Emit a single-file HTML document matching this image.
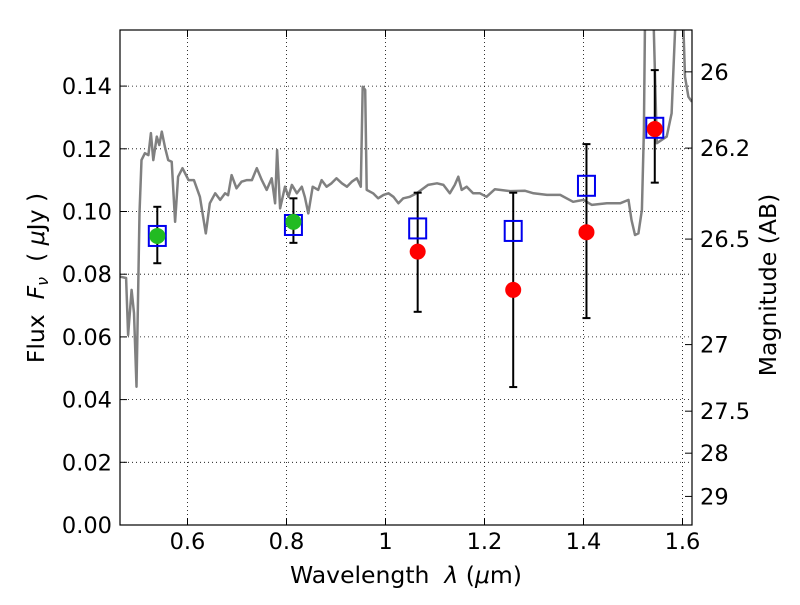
<!DOCTYPE html>
<html><head><meta charset="utf-8"><style>
body{margin:0;background:#fff}
svg text{font-family:"DejaVu Sans","Liberation Sans",sans-serif;fill:#000}
</style></head><body>
<svg id="chart" width="800" height="600" xmlns="http://www.w3.org/2000/svg">
<defs><clipPath id="clip"><rect x="120" y="30" width="572" height="495"/></clipPath></defs>
<rect x="0" y="0" width="800" height="600" fill="#fff"/>
<g id="grid"></g>
<g id="spec" clip-path="url(#clip)"></g>
<g id="marks" clip-path="url(#clip)"></g>
<rect x="120" y="30" width="572" height="495" fill="none" stroke="#000" stroke-width="1.2"/>
<g id="axes"></g>
<text x="406" y="583" text-anchor="middle" font-size="23.5">Wavelength&#160;&#160;<tspan font-style="italic">λ</tspan> (<tspan font-style="italic">μ</tspan>m)</text>
<text transform="translate(44,278) rotate(-90)" text-anchor="middle" font-size="23.5">Flux&#160;&#160;<tspan font-style="italic">F<tspan font-size="16" dy="4">ν</tspan></tspan><tspan dy="-4">&#160;&#160;(&#160;</tspan><tspan font-style="italic">μ</tspan>Jy )</text>
<text transform="translate(776,285) rotate(-90)" text-anchor="middle" font-size="23.5">Magnitude (AB)</text>
</svg>
<script>
const xTicks=[0.6,0.8,1.0,1.2,1.4,1.6];
const xTickLabels=["0.6","0.8","1","1.2","1.4","1.6"];
const yTicks=[0,0.02,0.04,0.06,0.08,0.1,0.12,0.14];
const yTickLabels=["0.00","0.02","0.04","0.06","0.08","0.10","0.12","0.14"];
const magTicks=[26,26.2,26.5,27,27.5,28,29];
const magTickLabels=["26","26.2","26.5","27","27.5","28","29"];
const bandWave=[0.539,0.814,1.065,1.258,1.406,1.544];
const modelFlux=[0.0922,0.0957,0.0946,0.0938,0.1082,0.1267];
const obsFlux=[0.0922,0.0967,0.0872,0.075,0.0934,0.1263];
const obsColors=["#22bb22","#22bb22","red","red","red","red"];
const errLow=[0.0835,0.090,0.068,0.044,0.066,0.1092];
const errHigh=[0.1015,0.1042,0.106,0.106,0.1215,0.1451];
const specWave=[0.464,0.476,0.480,0.487,0.492,0.497,0.503,0.507,0.514,0.521,0.526,0.531,0.538,0.543,0.548,0.555,0.561,0.568,0.575,0.581,0.590,0.602,0.613,0.625,0.637,0.645,0.656,0.666,0.676,0.682,0.689,0.699,0.709,0.720,0.730,0.740,0.750,0.760,0.770,0.777,0.781,0.787,0.797,0.804,0.811,0.821,0.831,0.837,0.844,0.853,0.864,0.871,0.881,0.891,0.901,0.912,0.922,0.932,0.942,0.950,0.954,0.959,0.962,0.975,0.985,0.996,1.006,1.016,1.026,1.036,1.049,1.063,1.086,1.104,1.117,1.130,1.140,1.147,1.154,1.164,1.177,1.191,1.204,1.221,1.252,1.282,1.299,1.326,1.353,1.379,1.400,1.417,1.447,1.474,1.491,1.497,1.504,1.511,1.518,1.522,1.524,1.528,1.538,1.542,1.548,1.568,1.578,1.585,1.59,1.598,1.602,1.605,1.612,1.619];
const specFlux=[0.0792,0.0788,0.0606,0.0750,0.0676,0.0441,0.0995,0.1164,0.1186,0.118,0.125,0.1164,0.1239,0.1212,0.1255,0.1202,0.1164,0.1159,0.0967,0.1111,0.1138,0.110,0.110,0.1047,0.0930,0.1026,0.1058,0.1037,0.1058,0.1052,0.1116,0.1074,0.1095,0.110,0.110,0.1138,0.110,0.1069,0.1106,0.1026,0.1196,0.1010,0.1079,0.1047,0.1085,0.1058,0.1079,0.1047,0.0994,0.1079,0.1069,0.110,0.1079,0.109,0.1106,0.109,0.1079,0.1095,0.1106,0.1079,0.1398,0.1388,0.1069,0.1058,0.1042,0.1053,0.1058,0.1047,0.1026,0.1042,0.1047,0.1058,0.1085,0.109,0.1085,0.1058,0.1085,0.1111,0.1069,0.1079,0.1058,0.1058,0.1047,0.1071,0.1065,0.1066,0.1058,0.1053,0.1053,0.1031,0.1037,0.1021,0.1026,0.1026,0.1037,0.0973,0.0925,0.0930,0.1005,0.126,0.158,0.175,0.175,0.158,0.1218,0.1239,0.1313,0.158,0.175,0.175,0.158,0.143,0.1366,0.135];
const NS="http://www.w3.org/2000/svg";
const X=v=>187.5+(v-0.6)*495, Y=v=>525-v*3135;
const mag2flux=m=>Math.pow(10,(8.9-m)/2.5)*1e6;
function mk(tag,attrs,parent){const e=document.createElementNS(NS,tag);for(const k in attrs)e.setAttribute(k,attrs[k]);parent.appendChild(e);return e;}
const grid=document.getElementById('grid'),axes=document.getElementById('axes'),spec=document.getElementById('spec'),marks=document.getElementById('marks');
xTicks.forEach((t,i)=>{const x=X(t);
 let g=mk('line',{x1:x,x2:x,y1:30,y2:525,stroke:'#000','stroke-dasharray':'1,3','stroke-width':0.8},grid);
 
 
 let a=mk('line',{x1:x,x2:x,y1:525,y2:518,stroke:'#000'},axes);
 
 
 let b=mk('line',{x1:x,x2:x,y1:30,y2:37,stroke:'#000'},axes);
 
 
 let tx=mk('text',{x:x,y:549,'text-anchor':'middle','font-size':22.5},axes);tx.textContent=xTickLabels[i];
 
 
});
yTicks.forEach((t,i)=>{const y=Y(t);
 let g=mk('line',{x1:120,x2:692,y1:y,y2:y,stroke:'#000','stroke-dasharray':'1,3','stroke-width':0.8},grid);
 
 
 let a=mk('line',{x1:120,x2:127,y1:y,y2:y,stroke:'#000'},axes);
 
 
 let tx=mk('text',{x:112,y:y+8,'text-anchor':'end','font-size':22.5},axes);tx.textContent=yTickLabels[i];
 
 
});
magTicks.forEach((m,i)=>{const y=Y(mag2flux(m));
 let a=mk('line',{x1:685,x2:692,y1:y,y2:y,stroke:'#000'},axes);
 
 
 let tx=mk('text',{x:700,y:y+8,'text-anchor':'start','font-size':22.5},axes);tx.textContent=magTickLabels[i];
 
 
});
let d=specWave.map((w,i)=>(i?'L':'M')+X(w).toFixed(1)+','+Y(specFlux[i]).toFixed(1)).join('');
let sp=mk('path',{d:d,fill:'none',stroke:'#808080','stroke-width':2.5,'stroke-linejoin':'round'},spec);


bandWave.forEach((w,i)=>{const x=X(w);
 let e=mk('line',{x1:x,x2:x,y1:Y(errLow[i]),y2:Y(errHigh[i]),stroke:'#000','stroke-width':2},marks);
 
 
 [errLow[i],errHigh[i]].forEach(v=>{let c=mk('line',{x1:x-4,x2:x+4,y1:Y(v),y2:Y(v),stroke:'#000','stroke-width':2},marks);
  
  });
 let s=mk('rect',{x:x-8.5,y:Y(modelFlux[i])-10,width:17,height:20,fill:'none',stroke:'#0000ee','stroke-width':2},marks);
 
 
 let c=mk('circle',{cx:x,cy:Y(obsFlux[i]),r:8,fill:obsColors[i],stroke:'none'},marks);
 
 
});
</script>
</body></html>
